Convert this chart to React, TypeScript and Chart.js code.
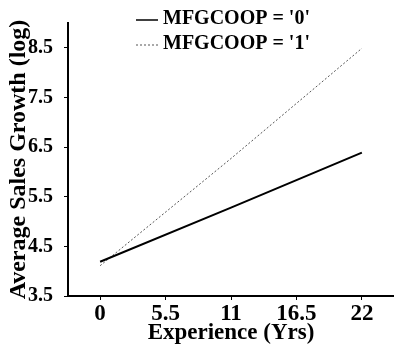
import React, { useEffect, useRef } from "react";
import { Chart, registerables } from "chart.js";

Chart.register(...registerables);

const seriesLabels = ["MFGCOOP = '0'", "MFGCOOP = '1'"];
const experienceX = [0, 11, 22];
const growthCoop0 = [4.19, 5.28, 6.39];
const growthCoop1 = [4.11, 6.27, 8.49];
const xTickValues = [0, 5.5, 11, 16.5, 22];
const yTickValues = [3.5, 4.5, 5.5, 6.5, 7.5, 8.5];

const SERIF = '"Liberation Serif", "Times New Roman", serif';

const legendPlugin = {
  id: "customLegend",
  afterDraw(chart: any) {
    const ctx = chart.ctx;
    ctx.save();
    ctx.font = `bold 20px ${SERIF}`;
    ctx.textBaseline = "middle";
    ctx.textAlign = "left";
    chart.data.datasets.forEach((ds: any, i: number) => {
      const y = 19 + i * 25;
      ctx.beginPath();
      ctx.strokeStyle = ds.borderColor;
      ctx.lineWidth = i === 0 ? 1.5 : ds.borderWidth;
      ctx.setLineDash(ds.borderDash || []);
      ctx.moveTo(136, y + 1);
      ctx.lineTo(158, y + 1);
      ctx.stroke();
      ctx.setLineDash([]);
      ctx.fillStyle = "#000";
      ctx.fillText(ds.label, 163, y);
    });
    ctx.restore();
  },
};

export default function App() {
  const ref = useRef<HTMLCanvasElement | null>(null);

  useEffect(() => {
    document.body.style.margin = "0";
    if (!ref.current) return;
    const chart = new Chart(ref.current, {
      type: "line",
      data: {
        datasets: [
          {
            label: seriesLabels[0],
            data: experienceX.map((x, i) => ({ x, y: growthCoop0[i] })),
            borderColor: "#000",
            borderWidth: 2,
            pointRadius: 0,
            fill: false,
            tension: 0,
          },
          {
            label: seriesLabels[1],
            data: experienceX.map((x, i) => ({ x, y: growthCoop1[i] })),
            borderColor: "#555",
            borderWidth: 1,
            borderDash: [2, 2],
            pointRadius: 0,
            fill: false,
            tension: 0,
          },
        ],
      },
      options: {
        animation: false,
        responsive: false,
        maintainAspectRatio: false,
        layout: { padding: { top: 17, left: 0, right: 0, bottom: 0 } },
        plugins: {
          legend: { display: false },
          tooltip: { enabled: false },
        },
        scales: {
          x: {
            type: "linear",
            min: -2.7,
            max: 24.7,
            afterBuildTicks: (scale: any) => {
              scale.ticks = xTickValues.map((v) => ({ value: v }));
            },
            afterFit: (scale: any) => {
              scale.height = 48;
            },
            ticks: {
              color: "#000",
              padding: 0,
              font: { family: SERIF, size: 23, weight: "bold" },
              callback: (v: any) => String(v),
              maxRotation: 0,
              autoSkip: false,
            },
            grid: {
              display: true,
              drawOnChartArea: false,
              drawTicks: true,
              tickLength: 4,
              color: "#000",
            },
            border: { display: true, color: "#000", width: 2 },
            title: {
              display: true,
              text: "Experience (Yrs)",
              color: "#000",
              padding: { top: 0, bottom: -3 },
              font: { family: SERIF, size: 23, weight: "bold" },
            },
          },
          y: {
            type: "linear",
            min: 3.5,
            max: 9.0,
            afterBuildTicks: (scale: any) => {
              scale.ticks = yTickValues.map((v) => ({ value: v }));
            },
            afterFit: (scale: any) => {
              scale.width = 68;
            },
            ticks: {
              color: "#000",
              padding: 11,
              font: { family: SERIF, size: 20, weight: "bold" },
              callback: (v: any) => Number(v).toFixed(1),
              autoSkip: false,
            },
            grid: {
              display: true,
              drawOnChartArea: false,
              drawTicks: true,
              tickLength: 4,
              color: "#000",
            },
            border: { display: true, color: "#000", width: 2 },
            title: {
              display: true,
              text: "Average Sales Growth (log)",
              color: "#000",
              padding: { top: 4, bottom: 0 },
              font: { family: SERIF, size: 24, weight: "bold" },
            },
          },
        },
      },
      plugins: [legendPlugin],
    });
    return () => chart.destroy();
  }, []);

  return (
    <div style={{ width: 394, height: 344, background: "#fff" }}>
      <canvas ref={ref} width={394} height={344} />
    </div>
  );
}
